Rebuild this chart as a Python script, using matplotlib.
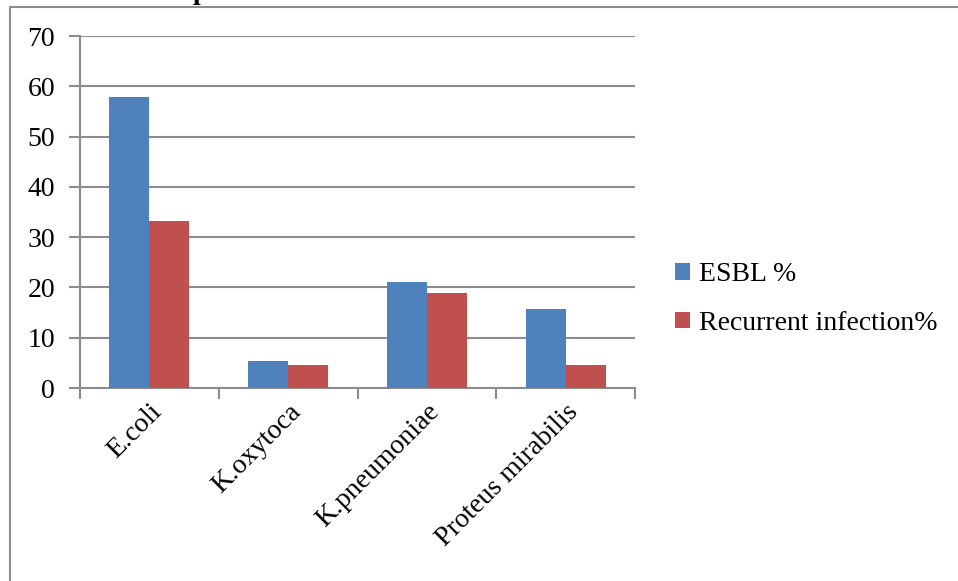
import matplotlib
matplotlib.use('Agg')
import matplotlib.pyplot as plt
from matplotlib.patches import Rectangle
import numpy as np

matplotlib.rcParams['font.family'] = ['Liberation Serif', 'DejaVu Serif']
matplotlib.rcParams['font.size'] = 20

# data
organisms = ['E.coli', 'K.oxytoca', 'K.pneumoniae', 'Proteus mirabilis']
esbl = [57.9, 5.4, 21.1, 15.8]
recurrent = [33.3, 4.5, 18.9, 4.5]
series_names = ['ESBL %', 'Recurrent infection%']
y_ticks = [0, 10, 20, 30, 40, 50, 60, 70]

W, H = 958, 581
fig = plt.figure(figsize=(W / 100, H / 100), dpi=100)
grey = '#8c8c8c'

# outer frame of the chart object (right/bottom edges are off the picture)
fig.patches.append(Rectangle((10 / W, -0.1), 1.2, 1.1 - 6.5 / H,
                             transform=fig.transFigure, fill=False,
                             edgecolor=grey, lw=1.5, zorder=0))

# cut-off heading above the chart
fig.text(200 / W, 1 + 1 / H, 'p', fontweight='bold', fontsize=20,
         ha='center', va='baseline')

ax = fig.add_axes([80 / W, (H - 388) / H, 555 / W, 352 / H])

x = np.arange(len(organisms))
w = 0.288
ax.bar(x - w / 2, esbl, w, color='#4F81BD', label=series_names[0], zorder=3)
ax.bar(x + w / 2, recurrent, w, color='#C0504D', label=series_names[1], zorder=3)

ax.set_xlim(-0.5, len(organisms) - 0.5)
ax.set_ylim(0, 70)
ax.set_yticks(y_ticks)
ax.yaxis.grid(True, color=grey, lw=1.5, zorder=0)

ax.set_xticks(x)
ax.set_xticklabels(organisms, rotation=45, ha='right', rotation_mode='anchor')
ax.set_xticks(np.arange(-0.5, len(organisms)), minor=True)
ax.tick_params(axis='x', which='major', length=0, pad=8)
ax.tick_params(axis='x', which='minor', length=8, width=1.5, color=grey, direction='out')
ax.tick_params(axis='y', length=8, width=1.5, color=grey, pad=10)

for side in ['top', 'right']:
    ax.spines[side].set_visible(False)
for side in ['left', 'bottom']:
    ax.spines[side].set_color(grey)
    ax.spines[side].set_linewidth(1.5)

ax.legend(loc='center left', bbox_to_anchor=(650 / W, 282 / H),
          bbox_transform=fig.transFigure, frameon=False,
          handlelength=0.55, handleheight=0.55, handletextpad=0.3,
          labelspacing=0.85, fontsize=20)

fig.savefig('out.png', dpi=100)
